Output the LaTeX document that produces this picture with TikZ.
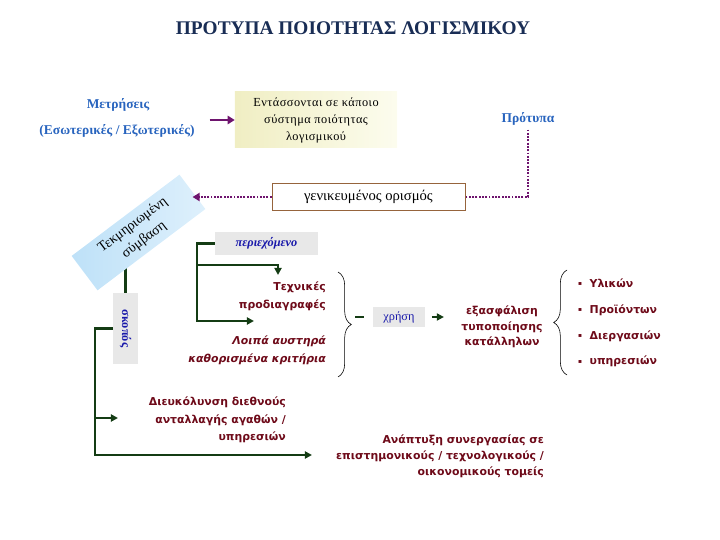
\documentclass[tikz,border=0pt]{standalone}
\usepackage{fontspec}
\setmainfont{Liberation Serif}
\newfontfamily\sansgr{DejaVu Sans}
\newfontfamily\spacedserif[LetterSpace=4]{Liberation Serif}
\usepackage{tikz}
\usetikzlibrary{arrows.meta,positioning,decorations.pathreplacing,backgrounds}
\definecolor{titlenavy}{RGB}{25,45,85}
\definecolor{labelblue}{RGB}{40,100,190}
\definecolor{deepblue}{RGB}{25,25,170}
\definecolor{wine}{RGB}{110,10,25}
\definecolor{linegreen}{RGB}{20,60,20}
\definecolor{dotpurple}{RGB}{110,20,110}
\definecolor{boxgrey}{RGB}{232,232,232}
\definecolor{boxbrown}{RGB}{150,100,60}
\definecolor{paleyellow}{RGB}{240,238,195}
\definecolor{creamwhite}{RGB}{252,252,238}
\definecolor{skyblue}{RGB}{190,225,248}
\definecolor{iceblue}{RGB}{222,240,252}
\newcommand{\sqbul}{{\mdseries\tiny\raisebox{0.5ex}{▪}}\ \ }

\begin{document}
\begin{tikzpicture}[x=0.03cm,y=-0.03cm,
  bluelabel/.style={text=labelblue,font=\bfseries\fontsize{11.5}{13}\selectfont},
  greybox/.style={fill=boxgrey,inner sep=2pt},
  winetext/.style={text=wine,font=\sansgr\bfseries\fontsize{9.3}{15}\selectfont},
  greenline/.style={draw=linegreen,line width=2.2pt},
  greenarrow/.style={greenline,-{Triangle[length=6pt,width=6pt]}},
  dotline/.style={draw=dotpurple,line width=2.2pt,dash pattern=on 1.6pt off 1.2pt},
  purplearrow/.style={draw=dotpurple,line width=2.4pt,-{Triangle[length=6pt,width=7pt]}}]
  \useasboundingbox (0,0) rectangle (720,540);
  % title
  \node[font=\bfseries\fontsize{16.5}{19}\selectfont,text=titlenavy] (title) at (353,28) {ΠΡΟΤΥΠΑ ΠΟΙΟΤΗΤΑΣ ΛΟΓΙΣΜΙΚΟΥ};
  % measurements and standards
  \node[bluelabel] (metr) at (118,105) {Μετρήσεις};
  \node[bluelabel] (inout) at (117,131) {(Εσωτερικές / Εξωτερικές)};
  \node[left color=paleyellow,right color=creamwhite,minimum width=4.86cm,minimum height=1.68cm,
        align=center,font=\spacedserif\fontsize{10.5}{14.5}\selectfont] (quality) at (316,120)
       {Εντάσσονται σε κάποιο\\σύστημα ποιότητας\\λογισμικού};
  \node[bluelabel] (std) at (528,119) {Πρότυπα};
  \node[draw=boxbrown,line width=0.8pt,fill=white,minimum width=5.79cm,minimum height=0.81cm,
        font=\fontsize{12.5}{14}\selectfont] (generic) at (368.5,197) {γενικευμένος ορισμός};
  \node[rotate=37,left color=skyblue,right color=iceblue,minimum width=4.05cm,minimum height=1.29cm,
        align=center,font=\fontsize{12}{16}\selectfont] (contract) at (138.5,232.5) {Τεκμηριωμένη\\σύμβαση};
  % content branch
  \node[greybox,minimum width=3.09cm,minimum height=0.69cm,text=deepblue,
        font=\bfseries\itshape\fontsize{10.5}{12}\selectfont] (content) at (266.5,243.5) {περιεχόμενο};
  \node[winetext,anchor=east,align=right] (tech) at (330,296) {Τεχνικές\\προδιαγραφές};
  \node[winetext,anchor=east,align=right,font=\sansgr\bfseries\itshape\fontsize{9.3}{15}\selectfont] (crit) at (330,350)
       {Λοιπά αυστηρά\\καθορισμένα κριτήρια};
  \node[greybox,minimum width=1.56cm,minimum height=0.6cm,text=deepblue,
        font=\fontsize{10.5}{12}\selectfont] (use) at (399,317) {χρήση};
  \node[winetext,align=center,font=\sansgr\bfseries\fontsize{9.3}{13}\selectfont] (ensure) at (502,327)
       {εξασφάλιση\\τυποποίησης\\κατάλληλων};
  \node[winetext,anchor=west,align=left,font=\sansgr\bfseries\fontsize{9.3}{22}\selectfont] (items) at (574,323)
       {\sqbul Υλικών\\\sqbul Προϊόντων\\\sqbul Διεργασιών\\\sqbul υπηρεσιών};
  % aim branch
  \node[greybox,minimum width=0.75cm,minimum height=2.13cm,text=deepblue,
        font=\bfseries\fontsize{10.5}{12}\selectfont] (aim) at (125.5,328.5) {\rotatebox{-90}{σκοπός}};
  \node[winetext,anchor=east,align=right] (ease) at (290,420)
       {Διευκόλυνση διεθνούς\\ανταλλαγής αγαθών /\\υπηρεσιών};
  \node[winetext,anchor=east,align=right,font=\sansgr\bfseries\fontsize{9.3}{13.6}\selectfont] (coop) at (548,456)
       {Ανάπτυξη συνεργασίας σε\\επιστημονικούς / τεχνολογικούς /\\οικονομικούς τομείς};

  % purple connectors
  \draw[purplearrow] ([xshift=0.33cm]inout.east |- quality.west) -- (quality.west);
  \draw[dotline] (std.south) |- (generic.east);
  \draw[dotline,-{Triangle[length=6pt,width=7pt]}] (generic.west) -- (generic.west -| contract.east);
  % green connectors
  \begin{scope}[on background layer]
    \draw[greenline] (aim.north) -- (aim.north |- contract.center);
  \end{scope}
  \coordinate (cfork) at (197,265);
  \coordinate (cbend) at (197,321);
  \coordinate (techin) at (278,275);
  \coordinate (critin) at (254,321);
  \draw[greenarrow] (content.west) -| (cbend) -- (critin);
  \draw[greenarrow] (cfork) -| (techin);
  \coordinate (afork) at (95,418);
  \coordinate (abend) at (95,455);
  \coordinate (easein) at (118,418);
  \coordinate (coopin) at (312,455);
  \draw[greenarrow] (aim.west) -| (abend) -- (coopin);
  \draw[greenarrow] (afork) -- (easein);
  % braces
  \coordinate (ltop) at (338,272);
  \coordinate (lbot) at (338,377);
  \coordinate (rtop) at (567,270);
  \coordinate (rbot) at (567,375);
  \draw[decorate,decoration={brace,amplitude=0.4cm},line width=0.5pt] (ltop) -- (lbot);
  \draw[decorate,decoration={brace,amplitude=0.4cm},line width=0.5pt] (rbot) -- (rtop);
  \coordinate (btip) at (355,317);
  \coordinate (usein) at (364,317);
  \draw[greenline] (btip) -- (usein);
  \draw[greenarrow] ([xshift=0.2cm]use.east) -- ++(12,0);
\end{tikzpicture}
\end{document}
